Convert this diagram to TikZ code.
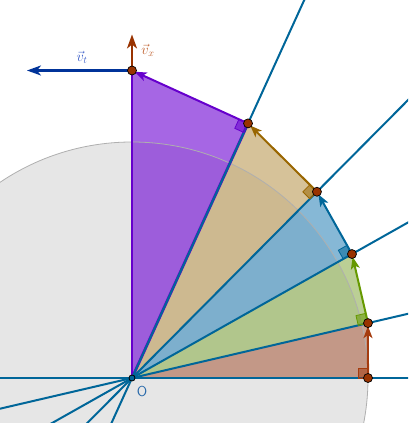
\documentclass[tikz,border=0pt]{standalone}
\usetikzlibrary{arrows.meta,calc}
\definecolor{diskgray}{RGB}{230,230,230}
\definecolor{diskline}{RGB}{175,175,175}
\definecolor{raycol}{RGB}{0,102,153}
\definecolor{brF}{RGB}{177,111,85}
\definecolor{grF}{RGB}{150,181,92}
\definecolor{blF}{RGB}{69,146,192}
\definecolor{tnF}{RGB}{192,161,99}
\definecolor{puF}{RGB}{118,20,214}
\definecolor{brS}{RGB}{165,60,15}
\definecolor{grS}{RGB}{102,153,0}
\definecolor{blS}{RGB}{0,102,153}
\definecolor{tnS}{RGB}{153,102,0}
\definecolor{puS}{RGB}{102,0,204}
\definecolor{dotcol}{RGB}{153,51,0}
\definecolor{vtcol}{RGB}{0,51,153}
\definecolor{vtlab}{RGB}{60,95,200}
\definecolor{vxcol}{RGB}{153,51,0}
\definecolor{vxlab}{RGB}{190,95,45}
\definecolor{olab}{RGB}{40,105,170}
\tikzset{
  wedge/.style={fill=#1, fill opacity=0.65, draw=none},
  ray/.style={draw=raycol, line width=2pt},
  segarrow/.style={draw=#1, line width=2pt, shorten >=3pt, -{Stealth[length=12pt,width=9pt,inset=3pt]}},
  rightmark/.style={draw=#1, fill=#1, fill opacity=0.55, line width=0.8pt},
  ptdot/.style={circle, fill=dotcol, draw=black, line width=0.7pt, inner sep=0pt, minimum size=9pt},
  odot/.style={circle, fill=raycol, draw=black, line width=0.8pt, inner sep=0pt, minimum size=6pt},
  vecarrow/.style={draw=#1, line width=2.2pt, -{Stealth[length=14pt,width=10pt,inset=4pt]}},
  veclab/.style={text=#1, font=\Large, inner sep=0pt}
}
\begin{document}
\begin{tikzpicture}[x=1pt,y=1pt]
\useasboundingbox (-132,-45) rectangle (276,378);
\clip (-132,-45) rectangle (276,378);
% points
\coordinate (O) at (0,0);
\coordinate (P0) at (0:236);
\coordinate (P1) at (13.1:242.3);
\coordinate (P2) at (29.4:252.5);
\coordinate (P3) at (45.2:262.5);
\coordinate (P4) at (65.5:279.8);
\coordinate (P5) at (90:307.5);
% disk
\fill[diskgray] (O) circle (236);
% wedges
\fill[wedge=brF] (O) -- (P0) -- (P1) -- cycle;
\fill[wedge=grF] (O) -- (P1) -- (P2) -- cycle;
\fill[wedge=blF] (O) -- (P2) -- (P3) -- cycle;
\fill[wedge=tnF] (O) -- (P3) -- (P4) -- cycle;
\fill[wedge=puF] (O) -- (P4) -- (P5) -- cycle;
\draw[diskline, line width=0.8pt] (O) circle (236);
\draw[puS, line width=2.8pt] (O) -- (P4);
\draw[puS, line width=1.5pt] (P5) -- (O);
% rays
\coordinate (R0a) at (180:300); \coordinate (R0b) at (0:400);
\coordinate (R1a) at ($(O)!-500pt!(P1)$); \coordinate (R1b) at ($(O)!600pt!(P1)$);
\coordinate (R2a) at ($(O)!-500pt!(P2)$); \coordinate (R2b) at ($(O)!600pt!(P2)$);
\coordinate (R3a) at ($(O)!-500pt!(P3)$); \coordinate (R3b) at ($(O)!600pt!(P3)$);
\coordinate (R4a) at ($(O)!-500pt!(P4)$); \coordinate (R4b) at ($(O)!600pt!(P4)$);
\draw[ray] (R0a) -- (R0b);
\draw[ray] (R1a) -- (R1b);
\draw[ray] (R2a) -- (R2b);
\draw[ray] (R3a) -- (R3b);
\draw[ray] (R4a) -- (R4b);
% right angle marks
\draw[rightmark=brS, shift={(P0)}, rotate=0] (0,0) -- (-10,0) -- (-10,10) -- (0,10) -- cycle;
\draw[rightmark=grS, shift={(P1)}, rotate=13.1] (0,0) -- (-10,0) -- (-10,10) -- (0,10) -- cycle;
\draw[rightmark=blS, shift={(P2)}, rotate=29.4] (0,0) -- (-10,0) -- (-10,10) -- (0,10) -- cycle;
\draw[rightmark=tnS, shift={(P3)}, rotate=45.2] (0,0) -- (-10,0) -- (-10,10) -- (0,10) -- cycle;
\draw[rightmark=puS, shift={(P4)}, rotate=65.5] (0,0) -- (-10,0) -- (-10,10) -- (0,10) -- cycle;
% segment arrows
\draw[segarrow=brS] (P0) -- (P1);
\draw[segarrow=grS] (P1) -- (P2);
\draw[segarrow=blS] (P2) -- (P3);
\draw[segarrow=tnS] (P3) -- (P4);
\draw[segarrow=puS] (P4) -- (P5);
% velocity vectors
\coordinate (VT) at ($(P5)+(-105,0)$);
\coordinate (VX) at ($(P5)+(0,36)$);
\draw[vecarrow=vtcol] (P5) -- (VT);
\draw[vecarrow=vxcol] (P5) -- (VX);
% dots
\node[odot] (Od) at (O) {};
\foreach \i in {0,...,5} { \node[ptdot] (D\i) at (P\i) {}; }
% labels
\node[veclab=vtlab] (Lvt) at ($(P5)+(-50,13)$) {$\vec{v}_t$};
\node[veclab=vxlab] (Lvx) at ($(P5)+(16,20)$) {$\vec{v}_x$};
\node[text=olab, font=\sffamily\Large, inner sep=0pt] (Ol) at (10,-14) {O};
\end{tikzpicture}
\end{document}
